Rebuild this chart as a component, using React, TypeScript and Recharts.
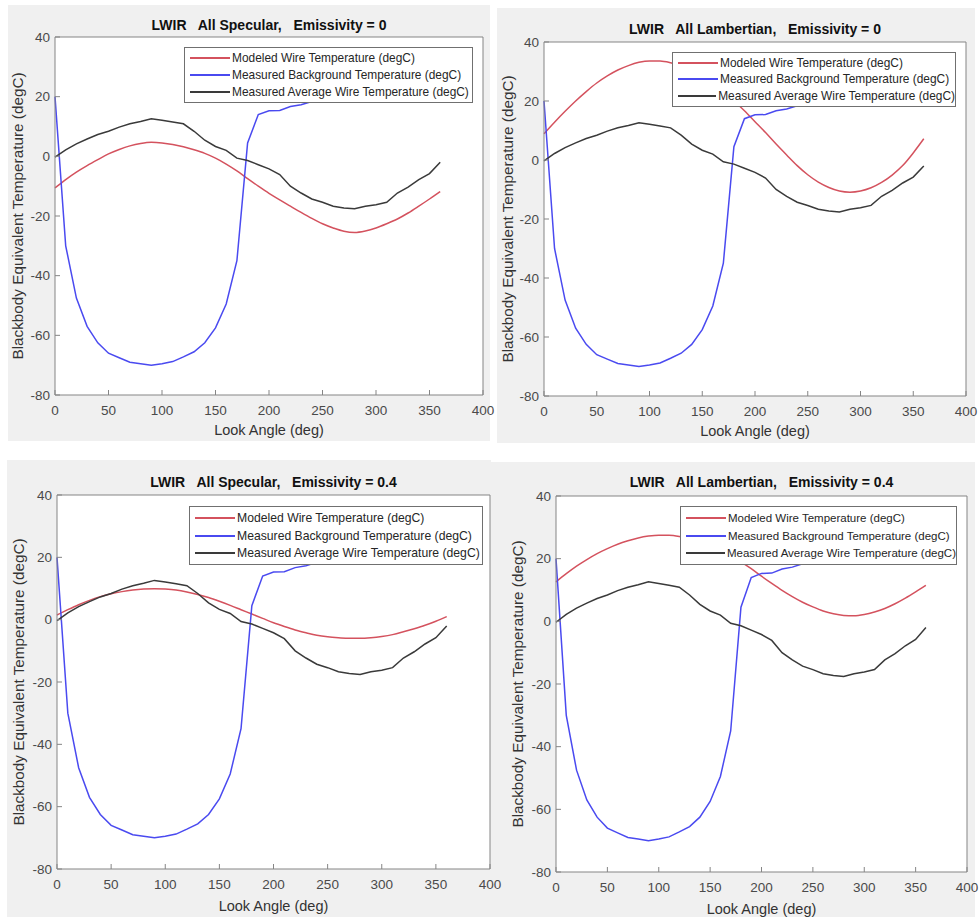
import React from 'react';
import { LineChart, Line, XAxis, YAxis, Legend } from 'recharts';

// look angle samples (deg)
const angles = [0, 10, 20, 30, 40, 50, 60, 70, 80, 90, 100, 110, 120, 130, 140, 150, 160, 170, 180,
  190, 200, 210, 220, 230, 240, 250, 260, 270, 280, 290, 300, 310, 320, 330, 340, 350, 360];

// measured, same in every panel
const background = [20, -30, -47.5, -57, -62.5, -66, -67.5, -69, -69.5, -70, -69.5, -68.8, -67.2, -65.5,
  -62.5, -57.5, -49.5, -35, 4.5, 14, 15.3, 15.4, 16.7, 17.3, 18.4, 19.2, 20, 20.5, 21, 21.3, 21.5, 21.5,
  21.3, 21, 20.8, 20.5, 20.2];
const averageWire = [-0.3, 2.2, 4.2, 5.8, 7.3, 8.4, 9.8, 10.9, 11.7, 12.6, 12.1, 11.5, 10.9, 8.4, 5.4, 3.3,
  2.0, -0.6, -1.4, -2.8, -4.2, -6.1, -10, -12.3, -14.3, -15.4, -16.7, -17.3, -17.6, -16.7, -16.2, -15.4,
  -12.3, -10.3, -7.8, -5.8, -2.0];

// modeled wire temperature, one per panel
const modeledSpecular0 = [-10.6, -7.8, -5.3, -3.1, -1.1, 0.8, 2.3, 3.5, 4.3, 4.7, 4.5, 4.0, 3.2, 2.2, 1.0,
  -0.6, -2.6, -4.9, -7.5, -10.0, -12.4, -14.6, -16.7, -18.8, -20.8, -22.6, -24.0, -25.1, -25.5, -25.0,
  -24.0, -22.6, -21.0, -19.0, -16.7, -14.3, -11.8];
const modeledLambertian0 = [8.9, 12.8, 16.5, 20, 23.2, 26.1, 28.5, 30.5, 32.0, 33.1, 33.6, 33.6, 33.0, 31.9,
  30.3, 28.3, 25.9, 23.1, 20.0, 16.7, 13.0, 9.3, 5.4, 1.7, -1.9, -5.0, -7.5, -9.3, -10.5, -10.9, -10.5,
  -9.4, -7.6, -5.1, -1.9, 2.4, 7.2];
const modeledSpecular04 = [1.5, 3.2, 4.8, 6.2, 7.4, 8.3, 9.0, 9.5, 9.8, 9.9, 9.8, 9.5, 8.9, 8.1, 7.1, 5.9,
  4.6, 3.2, 1.8, 0.4, -1.0, -2.2, -3.3, -4.2, -5.0, -5.5, -5.8, -6.0, -6.0, -5.8, -5.4, -4.8, -3.9, -2.9,
  -1.8, -0.5, 1.0];
const modeledLambertian04 = [12.6, 15.2, 17.6, 19.7, 21.6, 23.2, 24.6, 25.7, 26.6, 27.2, 27.5, 27.5, 27.1,
  26.3, 25.2, 23.8, 22.1, 21.0, 19.0, 16.8, 14.4, 12.1, 9.9, 7.9, 6.1, 4.6, 3.3, 2.4, 1.9, 1.8, 2.2, 3.0,
  4.1, 5.6, 7.4, 9.4, 11.5];

const xTicks = [0, 50, 100, 150, 200, 250, 300, 350, 400];
const yTicks = [-80, -60, -40, -20, 0, 20, 40];

const seriesNames = [
  'Modeled Wire Temperature (degC)',
  'Measured Background Temperature (degC)',
  'Measured Average Wire Temperature (degC)',
];
const seriesColors = ['#d4525e', '#4a4af0', '#3a3a3a'];

const sp = '\u00A0\u00A0 ';
const titles = [
  `LWIR${sp}All Specular,${sp}Emissivity = 0`,
  `LWIR${sp}All Lambertian,${sp}Emissivity = 0`,
  `LWIR${sp}All Specular,${sp}Emissivity = 0.4`,
  `LWIR${sp}All Lambertian,${sp}Emissivity = 0.4`,
];
const modeledSets = [modeledSpecular0, modeledLambertian0, modeledSpecular04, modeledLambertian04];

const panels = [
  { box: [8, 5, 482, 436], margin: { top: 31, right: 6, bottom: 0, left: 0 }, yW: 47, xH: 46,
    titleOff: 6, xLabOff: 6, yLabOff: 10, legend: [176, 42, 289, 56], fs: 11.9 },
  { box: [497, 8, 478, 435], margin: { top: 33, right: 8, bottom: 0, left: 0 }, yW: 47, xH: 47,
    titleOff: 7, xLabOff: 7, yLabOff: 11, legend: [175, 44, 284, 55], fs: 11.9 },
  { box: [7, 460, 484, 457], margin: { top: 34, right: 0, bottom: 0, left: 0 }, yW: 50, xH: 48,
    titleOff: 7, xLabOff: 6, yLabOff: 11.5, legend: [182, 46, 294, 59], fs: 12.2 },
  { box: [491, 462, 484, 455], margin: { top: 33, right: 7, bottom: 0, left: 0 }, yW: 65, xH: 45,
    titleOff: 8, xLabOff: 3, yLabOff: 27, legend: [189, 44, 277, 59], fs: 11.5 },
];

const axisColor = '#858585';
const tickText = { fill: '#4a4a4a', fontSize: 13.5 };

const LegendBox = ({ fontSize }: { fontSize: number }) => (
  <div style={{
    width: '100%', height: '100%', boxSizing: 'border-box', background: '#fff',
    border: '1px solid #707070', padding: '2px 0', display: 'flex', flexDirection: 'column',
  }}>
    {seriesNames.map((name, i) => (
      <div key={name} style={{ flex: 1, display: 'flex', alignItems: 'center' }}>
        <div style={{ width: 40, marginLeft: 5, marginRight: 2, height: 2, background: seriesColors[i] }} />
        <span style={{ fontSize, color: '#262626', whiteSpace: 'nowrap' }}>{name}</span>
      </div>
    ))}
  </div>
);

const Panel = ({ idx }: { idx: number }) => {
  const p = panels[idx];
  const modeled = modeledSets[idx];
  const data = angles.map((a, i) => ({
    angle: a,
    modeled: modeled[i],
    background: background[i],
    average: averageWire[i],
  }));
  const [left, top, width, height] = p.box;
  const [lx, ly, lw, lh] = p.legend;
  return (
    <div style={{ position: 'absolute', left, top, width, height, background: '#f0f0f0' }}>
      <LineChart width={width} height={height} data={data} margin={p.margin}>
        <rect x={p.yW} y={p.margin.top + 1} width={width - p.yW - p.margin.right - 1}
          height={height - p.margin.top - 1 - p.xH} fill="#fff" />
        <XAxis xAxisId="bottom" dataKey="angle" type="number" domain={[0, 400]} ticks={xTicks}
          interval={0} height={p.xH} tickSize={-5} tickMargin={15} stroke={axisColor} tick={tickText}
          label={{ value: 'Look Angle (deg)', position: 'insideBottom', offset: p.xLabOff, fontSize: 14.5, fill: '#333' }} />
        <XAxis xAxisId="top" orientation="top" type="number" domain={[0, 400]} ticks={xTicks}
          interval={0} height={1} tickSize={-5} tick={false} stroke={axisColor}
          label={{ value: titles[idx], position: 'top', offset: p.titleOff, fontSize: 14, fontWeight: 'bold', fill: '#111' }} />
        <YAxis yAxisId="left" type="number" domain={[-80, 40]} ticks={yTicks} interval={0}
          width={p.yW} tickSize={-5} tickMargin={10} stroke={axisColor} tick={tickText}
          label={{ value: 'Blackbody Equivalent Temperature (degC)', angle: -90, position: 'insideLeft',
            offset: p.yLabOff, fontSize: 15.3, fill: '#333', style: { textAnchor: 'middle' } }} />
        <YAxis yAxisId="right" orientation="right" type="number" domain={[-80, 40]} ticks={yTicks}
          interval={0} width={1} tickSize={4} tick={false} stroke={axisColor} />
        <Line xAxisId="bottom" yAxisId="left" type="monotone" dataKey="modeled" name={seriesNames[0]}
          stroke={seriesColors[0]} strokeWidth={1.5} dot={false} isAnimationActive={false} />
        <Line xAxisId="bottom" yAxisId="left" type="linear" dataKey="background" name={seriesNames[1]}
          stroke={seriesColors[1]} strokeWidth={1.5} dot={false} isAnimationActive={false} />
        <Line xAxisId="bottom" yAxisId="left" type="linear" dataKey="average" name={seriesNames[2]}
          stroke={seriesColors[2]} strokeWidth={1.5} dot={false} isAnimationActive={false} />
        <Legend layout="horizontal" verticalAlign="middle" align="center"
          wrapperStyle={{ left: lx, top: ly, width: lw, height: lh }}
          content={() => <LegendBox fontSize={p.fs} />} />
      </LineChart>
    </div>
  );
};

export default function App() {
  return (
    <div style={{ position: 'absolute', left: 0, top: 0, width: 979, height: 920, background: '#fff',
      fontFamily: '"Liberation Sans", Arial, sans-serif' }}>
      <style>{'.recharts-surface { overflow: visible; } .recharts-wrapper { overflow: visible; }'}</style>
      {[3, 2, 1, 0].map((i) => <Panel key={i} idx={i} />)}
    </div>
  );
}
